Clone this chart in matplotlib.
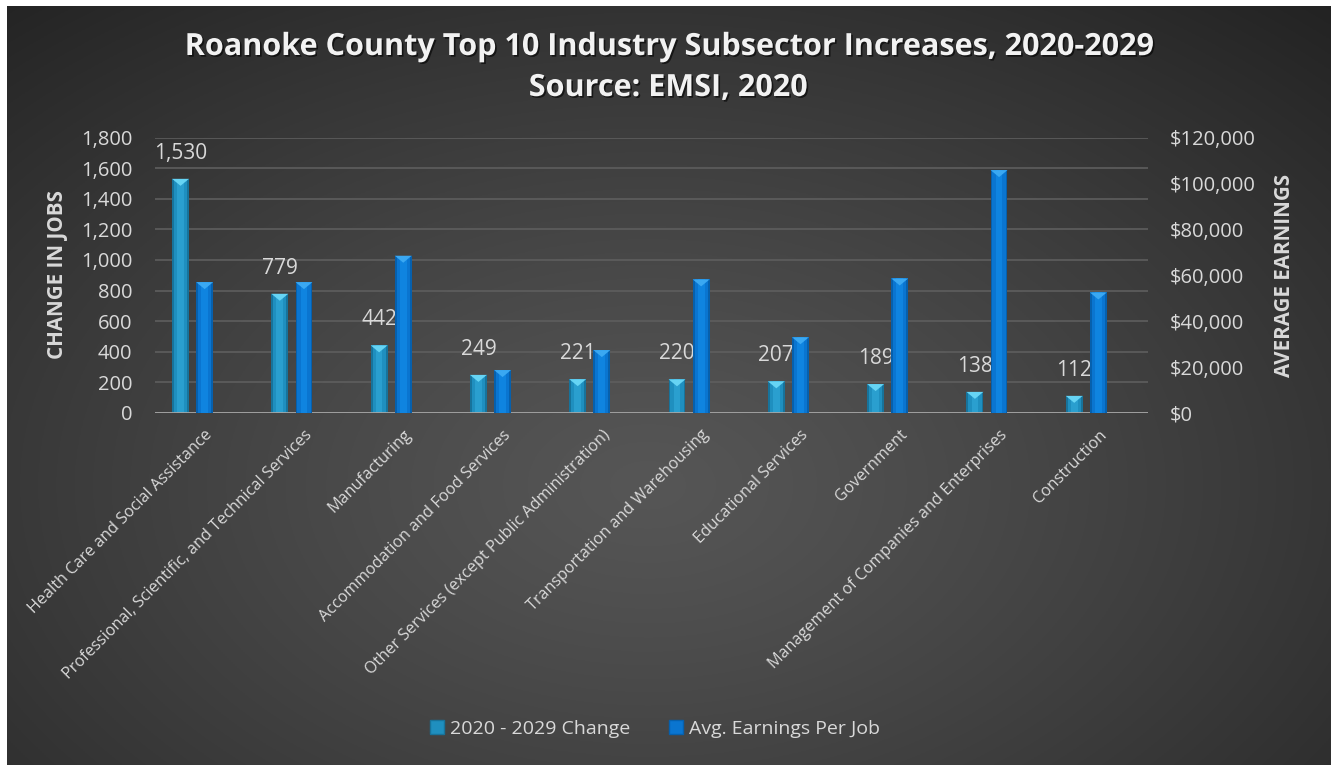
import numpy as np
import matplotlib
matplotlib.use("Agg")
import matplotlib.pyplot as plt
from matplotlib.patches import Polygon
from matplotlib.lines import Line2D
from matplotlib.ticker import FuncFormatter
import matplotlib.patheffects as pe

# ---------------- data ----------------
categories = [
    "Health Care and Social Assistance",
    "Professional, Scientific, and Technical Services",
    "Manufacturing",
    "Accommodation and Food Services",
    "Other Services (except Public Administration)",
    "Transportation and Warehousing",
    "Educational Services",
    "Government",
    "Management of Companies and Enterprises",
    "Construction",
]
job_change = [1530, 779, 442, 249, 221, 220, 207, 189, 138, 112]
avg_earnings = [57000, 57000, 68500, 18700, 27400, 58200, 33000, 58600, 105800, 52500]
left_ticks = [0, 200, 400, 600, 800, 1000, 1200, 1400, 1600, 1800]
right_ticks = [0, 20000, 40000, 60000, 80000, 100000, 120000]
series_names = ["2020 - 2029 Change", "Avg. Earnings Per Job"]
title_line1 = "Roanoke County Top 10 Industry Subsector Increases, 2020-2029"
title_line2 = "Source: EMSI, 2020"
left_label = "CHANGE IN JOBS"
right_label = "AVERAGE EARNINGS"

# ---------------- style ----------------
plt.rcParams["font.family"] = ["Open Sans", "DejaVu Sans"]
TXT = "#d9d9d9"
W, H = 1331, 765
fig = plt.figure(figsize=(W / 100, H / 100), dpi=100, facecolor="white")

# background radial gradient (white border on left and top only)
bg = fig.add_axes([7 / W, -0.02, 1.03 - 7 / W, 1.02 - 6 / H])
ny, nx = 400, 700
yy, xx = np.mgrid[0:1:ny * 1j, 0:1:nx * 1j]
cx, cy = 0.47, 0.62
d = np.sqrt(((xx - cx) / 0.75) ** 2 + ((yy - cy) / 0.85) ** 2)
t = np.clip(d, 0, 1) ** 1.2
g = (86 - (86 - 34) * t) / 255.0
bg.imshow(np.dstack([g, g, g]), aspect="auto", extent=[0, 1, 0, 1], origin="upper")
bg.set_xlim(0, 1)
bg.set_ylim(0, 1)
bg.set_axis_off()

# main axes
ax_left, ax_right = 155 / W, 1148 / W
ax_bottom, ax_top = 1 - 413 / H, 1 - 137.5 / H
ax = fig.add_axes([ax_left, ax_bottom, ax_right - ax_left, ax_top - ax_bottom])
ax.set_facecolor("none")
ax2 = ax.twinx()
ax_h_px = (ax_top - ax_bottom) * H

n = len(categories)
xpos = np.arange(n)
bw = 0.17
off_light = -0.243

ax.set_xlim(-0.5, n - 0.5)
ax.set_ylim(left_ticks[0], left_ticks[-1])
ax2.set_ylim(right_ticks[0], right_ticks[-1])
ax.set_yticks(left_ticks)
ax2.set_yticks(right_ticks)
ax.yaxis.set_major_formatter(FuncFormatter(lambda v, _: f"{v:,.0f}"))
ax2.yaxis.set_major_formatter(FuncFormatter(lambda v, _: f"${v:,.0f}"))

ax.grid(axis="y", color="#5e5e5e", linewidth=1.2, zorder=0)
ax.set_axisbelow(True)
for a in (ax, ax2):
    for s in ("left", "right", "top", "bottom"):
        a.spines[s].set_visible(False)
ax.axhline(0, color="#a6a6a6", linewidth=2.0, zorder=5)

ax.tick_params(axis="y", length=0, pad=16.5, labelsize=14.5, labelcolor=TXT)
ax2.tick_params(axis="y", length=0, pad=16, labelsize=14.5, labelcolor=TXT)
ax.set_xticks(xpos)
ax.set_xticklabels(categories, rotation=45, ha="right", rotation_mode="anchor",
                   fontsize=11.6, color=TXT)
ax.tick_params(axis="x", length=0, pad=10)


def bevel_bars(axis, xs, vals, width, cols, tri_col, ymax):
    edge, mid, center = cols
    axis.bar(xs, vals, width, color=edge, zorder=3, linewidth=0)
    axis.bar(xs, vals, width * 0.78, color=mid, zorder=3, linewidth=0)
    axis.bar(xs, vals, width * 0.4, color=center, zorder=3, linewidth=0)
    tri_h = 7.0 / ax_h_px * ymax
    for x, v in zip(xs, vals):
        axis.add_patch(Polygon([[x - width / 2, v], [x + width / 2, v], [x, v - tri_h]],
                               closed=True, facecolor=tri_col, edgecolor="none", zorder=4))


light_cols = ("#17739b", "#1f8fbf", "#2a9fcf")
dark_cols = ("#0660ad", "#0a75d0", "#0f84e0")
bevel_bars(ax, xpos + off_light, job_change, bw, light_cols, "#66d4f4", left_ticks[-1])
bevel_bars(ax2, xpos, avg_earnings, bw, dark_cols, "#3aa8f2", right_ticks[-1])

for x, v in zip(xpos + off_light, job_change):
    ax.annotate(f"{v:,}", (x, v), xytext=(0, 18.5), textcoords="offset points",
                ha="center", va="center", fontsize=15, color=TXT, zorder=6)

# axis titles
fig.text(57 / W, 1 - 275 / H, left_label, rotation=90, ha="center", va="center",
         fontsize=14.8, fontweight="bold", color=TXT)
fig.text(1285 / W, 1 - 275.5 / H, right_label, rotation=90, ha="center", va="center",
         fontsize=14.8, fontweight="bold", color=TXT)

# chart title
shadow = [pe.withSimplePatchShadow(offset=(1.2, -1.2), shadow_rgbFace="black", alpha=0.6)]
fig.text(668 / W, 1 - 47 / H, title_line1, ha="center", va="center", fontsize=22,
         fontweight="bold", color="#f2f2f2", path_effects=shadow)
fig.text(668 / W, 1 - 88 / H, title_line2, ha="center", va="center", fontsize=22,
         fontweight="bold", color="#f2f2f2", path_effects=shadow)

# legend
handles = [
    Line2D([], [], linestyle="none", marker="s", markersize=10,
           markerfacecolor=light_cols[1], markeredgecolor=light_cols[0]),
    Line2D([], [], linestyle="none", marker="s", markersize=10,
           markerfacecolor=dark_cols[1], markeredgecolor=dark_cols[0]),
]
fig.legend(handles, series_names, loc="center", bbox_to_anchor=(655 / W, 1 - 729 / H),
           ncol=2, frameon=False, fontsize=14, labelcolor=TXT, handlelength=0.7,
           handletextpad=0.3, columnspacing=2.0)

fig.savefig("out.png", dpi=100, facecolor=fig.get_facecolor())
